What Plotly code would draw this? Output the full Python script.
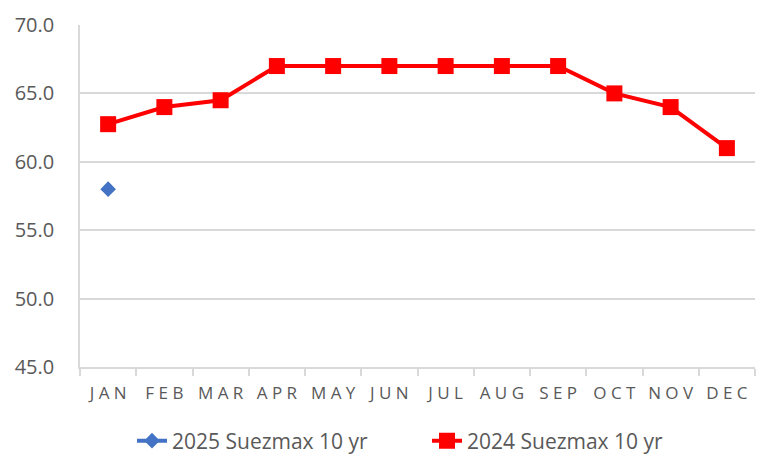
import plotly.graph_objects as go

months = ["JAN", "FEB", "MAR", "APR", "MAY", "JUN", "JUL", "AUG", "SEP", "OCT", "NOV", "DEC"]
s2025_name = "2025 Suezmax 10 yr"
s2025_vals = [58.0]
s2024_name = "2024 Suezmax 10 yr"
s2024_vals = [62.75, 64.0, 64.5, 67.0, 67.0, 67.0, 67.0, 67.0, 67.0, 65.0, 64.0, 61.0]
y_ticks = [45, 50, 55, 60, 65, 70]

def spaced(s):
    return " ".join(s)

labels = [spaced(m) for m in months]

W, H = 758, 448

fig = go.Figure()
fig.add_trace(go.Scatter(
    x=labels[:len(s2025_vals)], y=s2025_vals, name=s2025_name,
    mode="lines+markers",
    line=dict(color="#4472C4", width=4),
    marker=dict(symbol="diamond", size=12, color="#4472C4"),
))
fig.add_trace(go.Scatter(
    x=labels, y=s2024_vals, name=s2024_name,
    mode="lines+markers",
    line=dict(color="#FF0000", width=4),
    marker=dict(symbol="square", size=16, color="#FF0000"),
))

fig.update_layout(
    width=W, height=H,
    margin=dict(l=72, r=11, t=17, b=89, autoexpand=False),
    paper_bgcolor="white", plot_bgcolor="white",
    font=dict(family="Open Sans, Liberation Sans, sans-serif", color="#595959"),
    showlegend=True,
    legend=dict(orientation="h", x=124 / W, xanchor="left", xref="container",
                y=15 / H, yanchor="middle", yref="container",
                font=dict(size=21, color="#595959"), entrywidth=250,
                traceorder="normal"),
)
fig.update_xaxes(
    type="category", categoryorder="array", categoryarray=labels,
    range=[-0.5, 11.5], automargin=False,
    showline=True, linecolor="#D9D9D9", linewidth=1.5,
    ticks="outside", tickson="boundaries", ticklen=7, tickcolor="#D9D9D9", tickwidth=1.5,
    tickfont=dict(size=17, color="#595959"), ticklabelstandoff=10,
    showgrid=False,
)
fig.update_yaxes(
    range=[45, 70], tickvals=y_ticks, tickformat=".1f", automargin=False,
    showline=True, linecolor="#D9D9D9", linewidth=1.5,
    showgrid=True, gridcolor="#D9D9D9", gridwidth=1.5,
    tickfont=dict(size=20, color="#595959"),
    ticks="", ticklabelstandoff=20, zeroline=False,
)

fig.write_html("out.html")
